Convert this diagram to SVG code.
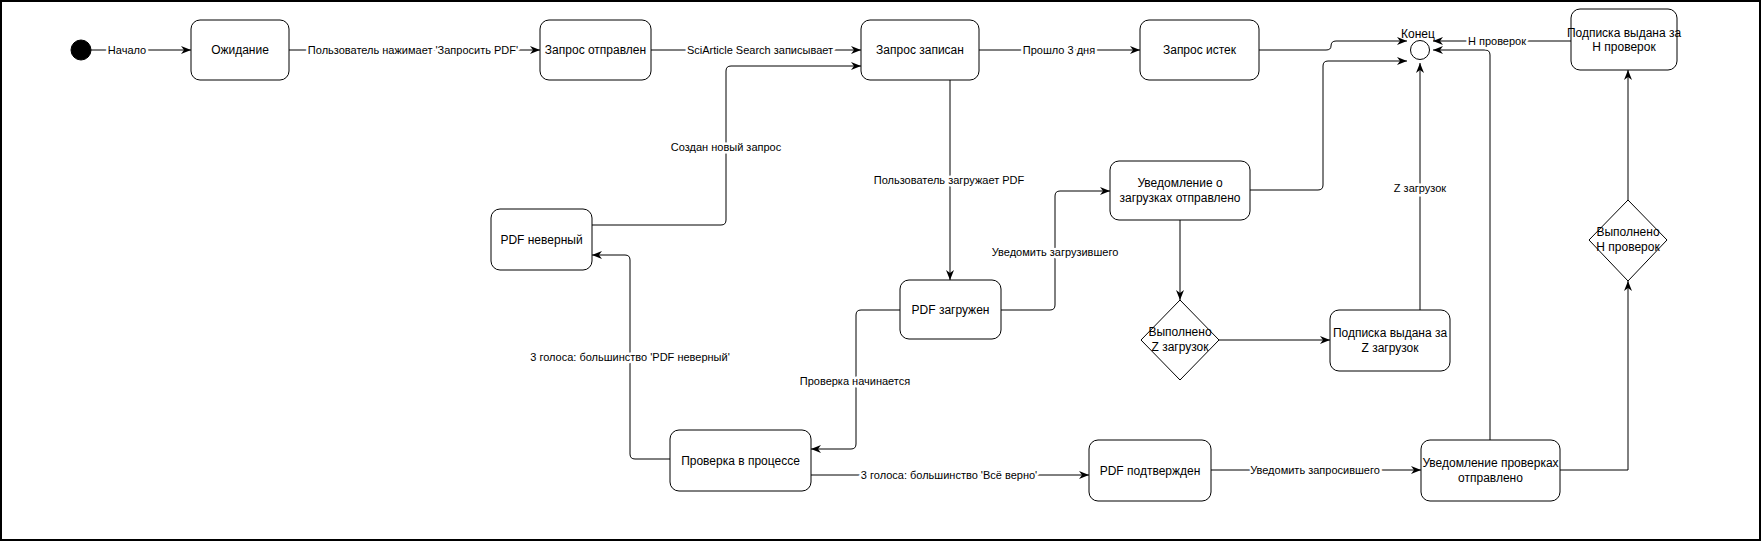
<svg xmlns="http://www.w3.org/2000/svg" width="1761" height="541" viewBox="0 0 1761 541">
<style>
.node{fill:#fff;stroke:#000;stroke-width:1}
.t{font-family:"Liberation Sans",Arial,sans-serif;font-size:12px;text-anchor:middle;fill:#000}
.e{fill:none;stroke:#000;stroke-width:1}
.l{font-family:"Liberation Sans",Arial,sans-serif;font-size:11px;text-anchor:middle;fill:#000;stroke:#fff;stroke-width:5px;paint-order:stroke;stroke-linejoin:round}
</style>
<defs>
<marker id="a" viewBox="0 0 10 8" markerWidth="10" markerHeight="8" refX="10" refY="4" orient="auto" markerUnits="userSpaceOnUse">
<path d="M0,0 L10,4 L0,8 L3,4 z" fill="#000"/>
</marker>
</defs>
<rect x="1" y="1" width="1759" height="539" fill="#fff" stroke="#000" stroke-width="2"/>
<g id="connectors">
<path class="e" marker-end="url(#a)" d="M91,50 H191"/>
<path class="e" marker-end="url(#a)" d="M289,50 H540"/>
<path class="e" marker-end="url(#a)" d="M651,50 H861"/>
<path class="e" marker-end="url(#a)" d="M979,50 H1140"/>
<path class="e" marker-end="url(#a)" d="M1259,50 H1326 Q1331,50 1331,46 Q1331,41 1336,41 H1407"/>
<path class="e" marker-end="url(#a)" d="M1250,190 H1318 Q1323,190 1323,185 V66 Q1323,61 1328,61 H1407"/>
<path class="e" marker-end="url(#a)" d="M1571,41 H1433"/>
<path class="e" marker-end="url(#a)" d="M1490,440 V55 Q1490,50 1485,50 H1433"/>
<path class="e" marker-end="url(#a)" d="M1420,310 V63"/>
<path class="e" marker-end="url(#a)" d="M950,80 V280"/>
<path class="e" marker-end="url(#a)" d="M592,225 H721 Q726,225 726,220 V71 Q726,66 731,66 H861"/>
<path class="e" marker-end="url(#a)" d="M1001,310 H1050 Q1055,310 1055,305 V196 Q1055,191 1060,191 H1110"/>
<path class="e" marker-end="url(#a)" d="M900,310 H861 Q856,310 856,315 V444 Q856,449 851,449 H811"/>
<path class="e" marker-end="url(#a)" d="M670,459 H635 Q630,459 630,454 V260 Q630,255 625,255 H592"/>
<path class="e" marker-end="url(#a)" d="M811,475 H1089"/>
<path class="e" marker-end="url(#a)" d="M1211,470 H1421"/>
<path class="e" marker-end="url(#a)" d="M1560,470 H1628 V281"/>
<path class="e" marker-end="url(#a)" d="M1628,200 V70"/>
<path class="e" marker-end="url(#a)" d="M1180,220 V300"/>
<path class="e" marker-end="url(#a)" d="M1219,340 H1330"/>
<text class="l" x="127" y="54">Начало</text>
<text class="l" x="413" y="54">Пользователь нажимает 'Запросить PDF'</text>
<text class="l" x="760" y="54">SciArticle Search записывает</text>
<text class="l" x="1059" y="54">Прошло 3 дня</text>
<text class="l" x="1497" y="45">Н проверок</text>
<text class="l" x="1420" y="192">Z загрузок</text>
<text class="l" x="949" y="184">Пользователь загружает PDF</text>
<text class="l" x="726" y="151">Создан новый запрос</text>
<text class="l" x="1055" y="256">Уведомить загрузившего</text>
<text class="l" x="855" y="385">Проверка начинается</text>
<text class="l" x="630" y="361">3 голоса: большинство 'PDF неверный'</text>
<text class="l" x="949" y="479">3 голоса: большинство 'Всё верно'</text>
<text class="l" x="1315" y="474">Уведомить запросившего</text>
</g>
<g id="start"><circle cx="81" cy="50" r="10" fill="#000" stroke="#000"/></g>
<g id="end"><circle cx="1420" cy="50" r="9.5" fill="#fff" stroke="#000" stroke-width="1"/><text class="t" x="1418" y="38">Конец</text></g>
<g id="n-wait"><rect class="node" x="191" y="20" width="98" height="60" rx="9"/><text class="t" x="240" y="54">Ожидание</text></g>
<g id="n-sent"><rect class="node" x="540" y="20" width="111" height="60" rx="9"/><text class="t" x="595.5" y="54">Запрос отправлен</text></g>
<g id="n-recorded"><rect class="node" x="861" y="20" width="118" height="60" rx="9"/><text class="t" x="920" y="54">Запрос записан</text></g>
<g id="n-expired"><rect class="node" x="1140" y="20" width="119" height="60" rx="9"/><text class="t" x="1199.5" y="54">Запрос истек</text></g>
<g id="n-subH"><rect class="node" x="1571" y="9" width="106" height="61" rx="9"/><text class="t" x="1624" y="37">Подписка выдана за</text><text class="t" x="1624" y="51">Н проверок</text></g>
<g id="n-invalid"><rect class="node" x="491" y="209" width="101" height="61" rx="9"/><text class="t" x="541.5" y="244">PDF неверный</text></g>
<g id="n-notifyUp"><rect class="node" x="1110" y="161" width="140" height="59" rx="9"/><text class="t" x="1180" y="187">Уведомление о</text><text class="t" x="1180" y="202">загрузках отправлено</text></g>
<g id="n-uploaded"><rect class="node" x="900" y="280" width="101" height="59" rx="9"/><text class="t" x="950.5" y="314">PDF загружен</text></g>
<g id="n-decZ"><polygon class="node" points="1180,300 1219,340 1180,380 1141,340"/><text class="t" x="1180" y="336">Выполнено</text><text class="t" x="1180" y="351">Z загрузок</text></g>
<g id="n-subZ"><rect class="node" x="1330" y="310" width="120" height="61" rx="9"/><text class="t" x="1390" y="337">Подписка выдана за</text><text class="t" x="1390" y="352">Z загрузок</text></g>
<g id="n-decH"><polygon class="node" points="1628,200 1667,240 1628,281 1589,240"/><text class="t" x="1628" y="236">Выполнено</text><text class="t" x="1628" y="251">Н проверок</text></g>
<g id="n-check"><rect class="node" x="670" y="430" width="141" height="61" rx="9"/><text class="t" x="740.5" y="465">Проверка в процессе</text></g>
<g id="n-confirmed"><rect class="node" x="1089" y="440" width="122" height="61" rx="9"/><text class="t" x="1150" y="475">PDF подтвержден</text></g>
<g id="n-notifyCheck"><rect class="node" x="1421" y="440" width="139" height="61" rx="9"/><text class="t" x="1490.5" y="467">Уведомление проверках</text><text class="t" x="1490.5" y="482">отправлено</text></g>
</svg>
